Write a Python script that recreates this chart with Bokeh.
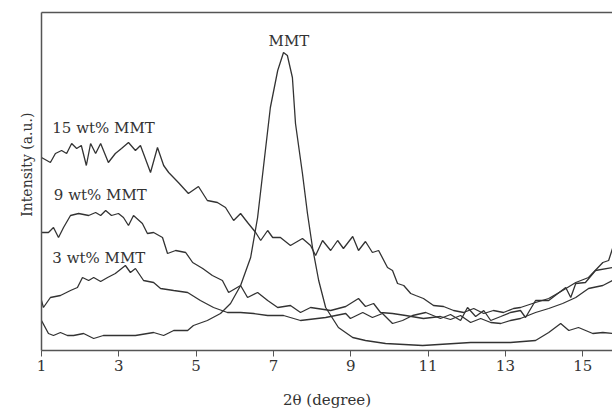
from bokeh.plotting import figure
from bokeh.models import Range1d, LinearAxis, Label, FixedTicker, Title
from bokeh.embed import file_html
from bokeh.resources import INLINE

# XRD patterns: 2-theta (degree) vs intensity (a.u.)
two_theta_mmt = [1.00, 1.18, 1.31, 1.49, 1.67, 1.83, 2.09, 2.35, 2.60, 2.97, 3.43, 3.90,
                 4.16, 4.42, 4.78, 4.93, 5.29, 5.63, 5.89, 6.15, 6.41, 6.59, 6.74, 6.92,
                 7.11, 7.26, 7.36, 7.49, 7.57, 7.75, 7.88, 8.01, 8.17, 8.35, 8.68, 9.05,
                 9.38, 9.90, 10.86, 12.10, 13.13, 13.78, 14.12, 14.43, 14.64, 14.89, 15.26,
                 15.52, 15.77]
intensity_mmt = [30, 17, 15, 18, 15, 15, 17, 12, 15, 15, 15, 18,
                 15, 20, 20, 25, 30, 37, 47, 65, 93, 133, 183, 243,
                 280, 298, 295, 273, 227, 177, 137, 103, 70, 43, 23, 13,
                 10, 7, 5, 8, 8, 10, 18, 27, 20, 23, 17,
                 18, 17]

two_theta_3 = [1.00, 1.05, 1.23, 1.49, 1.75, 1.93, 2.06, 2.22, 2.35, 2.53, 2.71, 2.91,
               3.17, 3.30, 3.43, 3.64, 3.90, 4.08, 4.42, 4.78, 5.11, 5.45, 5.81, 6.15,
               6.49, 6.85, 7.26, 7.70, 8.35, 8.87, 8.99, 9.31, 9.56, 9.82, 10.08, 10.34,
               10.60, 10.94, 11.32, 11.58, 11.84, 12.02, 12.23, 12.44, 12.62, 12.88, 13.13,
               13.39, 13.52, 13.78, 14.12, 14.56, 14.69, 14.82, 15.07, 15.33, 15.77]
intensity_3 = [50, 43, 53, 55, 60, 63, 73, 70, 73, 69, 73, 77,
               85, 78, 82, 70, 68, 62, 60, 58, 50, 43, 38, 38,
               37, 35, 35, 30, 33, 37, 32, 38, 33, 37, 27, 30,
               35, 38, 32, 36, 30, 43, 34, 40, 30, 34, 38,
               40, 33, 50, 50, 63, 53, 67, 68, 80, 83]

two_theta_9 = [1.00, 1.18, 1.31, 1.44, 1.57, 1.75, 1.96, 2.22, 2.40, 2.53, 2.66, 2.81,
               2.99, 3.12, 3.25, 3.38, 3.61, 3.74, 3.90, 4.13, 4.26, 4.47, 4.73, 4.91,
               5.17, 5.42, 5.68, 5.84, 6.15, 6.33, 6.59, 6.85, 7.11, 7.44, 7.70, 7.96,
               8.48, 8.87, 9.20, 9.38, 9.59, 9.77, 10.08, 10.42, 10.88, 11.32, 11.58,
               11.84, 12.10, 12.36, 12.62, 12.88, 13.13, 13.39, 13.78, 14.12, 14.48,
               14.82, 15.15, 15.52, 15.77]
intensity_9 = [118, 118, 123, 113, 123, 135, 137, 135, 138, 135, 140, 135,
               137, 133, 125, 135, 127, 117, 118, 113, 97, 100, 98, 88,
               82, 75, 70, 58, 65, 53, 58, 50, 43, 45, 38, 43,
               40, 44, 52, 44, 47, 38, 37, 35, 32, 34, 31,
               35, 28, 32, 28, 27, 30, 32, 38, 42, 47,
               53, 62, 65, 70]

two_theta_15 = [1.00, 1.23, 1.36, 1.52, 1.65, 1.78, 1.91, 2.03, 2.16, 2.27, 2.40, 2.53,
                2.73, 2.91, 3.07, 3.25, 3.43, 3.56, 3.82, 4.00, 4.16, 4.29, 4.54, 4.80,
                5.06, 5.29, 5.55, 5.76, 5.97, 6.15, 6.33, 6.54, 6.67, 6.85, 6.98, 7.18,
                7.44, 7.75, 7.96, 8.09, 8.27, 8.48, 8.66, 8.81, 9.05, 9.20, 9.38, 9.56,
                9.72, 9.95, 10.08, 10.21, 10.37, 10.55, 10.68, 10.88, 11.14, 11.40, 11.66,
                11.92, 12.18, 12.44, 12.69, 12.95, 13.21, 13.39, 13.78, 14.12, 14.48,
                14.82, 15.15, 15.52, 15.67, 15.77]
intensity_15 = [193, 188, 197, 200, 197, 207, 202, 205, 185, 207, 197, 207,
                188, 197, 202, 208, 200, 205, 178, 203, 185, 178, 168, 157,
                164, 150, 148, 143, 130, 137, 128, 118, 110, 120, 113, 113,
                105, 112, 105, 95, 110, 100, 110, 102, 114, 100, 109, 98,
                100, 83, 80, 67, 65, 57, 55, 52, 45, 44, 40,
                38, 42, 37, 40, 38, 42, 43, 48, 52, 60,
                68, 73, 88, 90, 102]

x_ticks = [1, 3, 5, 7, 9, 11, 13, 15]

# curve labels: text, 2-theta position, intensity position
label_texts = ["MMT", "15 wt% MMT", "9 wt% MMT", "3 wt% MMT"]
label_x = [7.40, 1.28, 1.32, 1.28]
label_y = [310, 223, 156, 93]
label_align = ["center", "left", "left", "left"]

FONT = "DejaVu Serif"
INK = "#333333"
FRAME = "#555555"

p = figure(width=612, height=411,
           x_range=Range1d(1, 15.77), y_range=Range1d(0, 338),
           output_backend="svg", toolbar_location=None,
           min_border_left=41, min_border_right=0,
           min_border_top=12, min_border_bottom=61)
p.outline_line_color = None
p.grid.visible = False
p.background_fill_color = "white"
p.border_fill_color = "white"

xa = p.xaxis[0]
xa.ticker = FixedTicker(ticks=x_ticks)
xa.major_tick_out = 6
xa.major_tick_in = 0
xa.minor_tick_line_color = None
xa.major_tick_line_color = FRAME
xa.axis_line_color = FRAME
xa.axis_line_width = 1.5
xa.major_label_text_font = FONT
xa.major_label_text_font_size = "15px"
xa.major_label_text_color = INK
xa.major_label_standoff = 3
xa.axis_label = "2\u03b8 (degree)"
xa.axis_label_text_font = FONT
xa.axis_label_text_font_size = "15px"
xa.axis_label_text_font_style = "normal"
xa.axis_label_text_color = INK
xa.axis_label_standoff = 17

ya = p.yaxis[0]
ya.ticker = FixedTicker(ticks=[])
ya.major_label_text_font_size = "0px"
ya.major_label_standoff = 0
ya.major_tick_line_color = None
ya.minor_tick_line_color = None
ya.axis_line_color = FRAME
ya.axis_line_width = 1.5

top = LinearAxis(ticker=FixedTicker(ticks=[]), major_label_text_font_size="0px",
                 major_tick_line_color=None, minor_tick_line_color=None,
                 axis_line_color=FRAME, axis_line_width=1.5)
p.add_layout(top, "above")

# vertical title on the left side, anchored near the top of the frame
p.add_layout(Title(text="Intensity (a.u.)", align="right", offset=100,
                   vertical_align="top",
                   text_font=FONT, text_font_size="14px", text_font_style="normal",
                   text_color=INK), "left")

for xs, ys in [(two_theta_mmt, intensity_mmt), (two_theta_3, intensity_3),
               (two_theta_9, intensity_9), (two_theta_15, intensity_15)]:
    p.line(xs, ys, line_color=INK, line_width=1.3)

for t, lx, ly, al in zip(label_texts, label_x, label_y, label_align):
    p.add_layout(Label(x=lx, y=ly, text=t, text_font=FONT, text_font_size="15px",
                       text_color=INK, text_align=al, text_baseline="middle"))

open("out.html", "w").write(file_html(p, INLINE))
